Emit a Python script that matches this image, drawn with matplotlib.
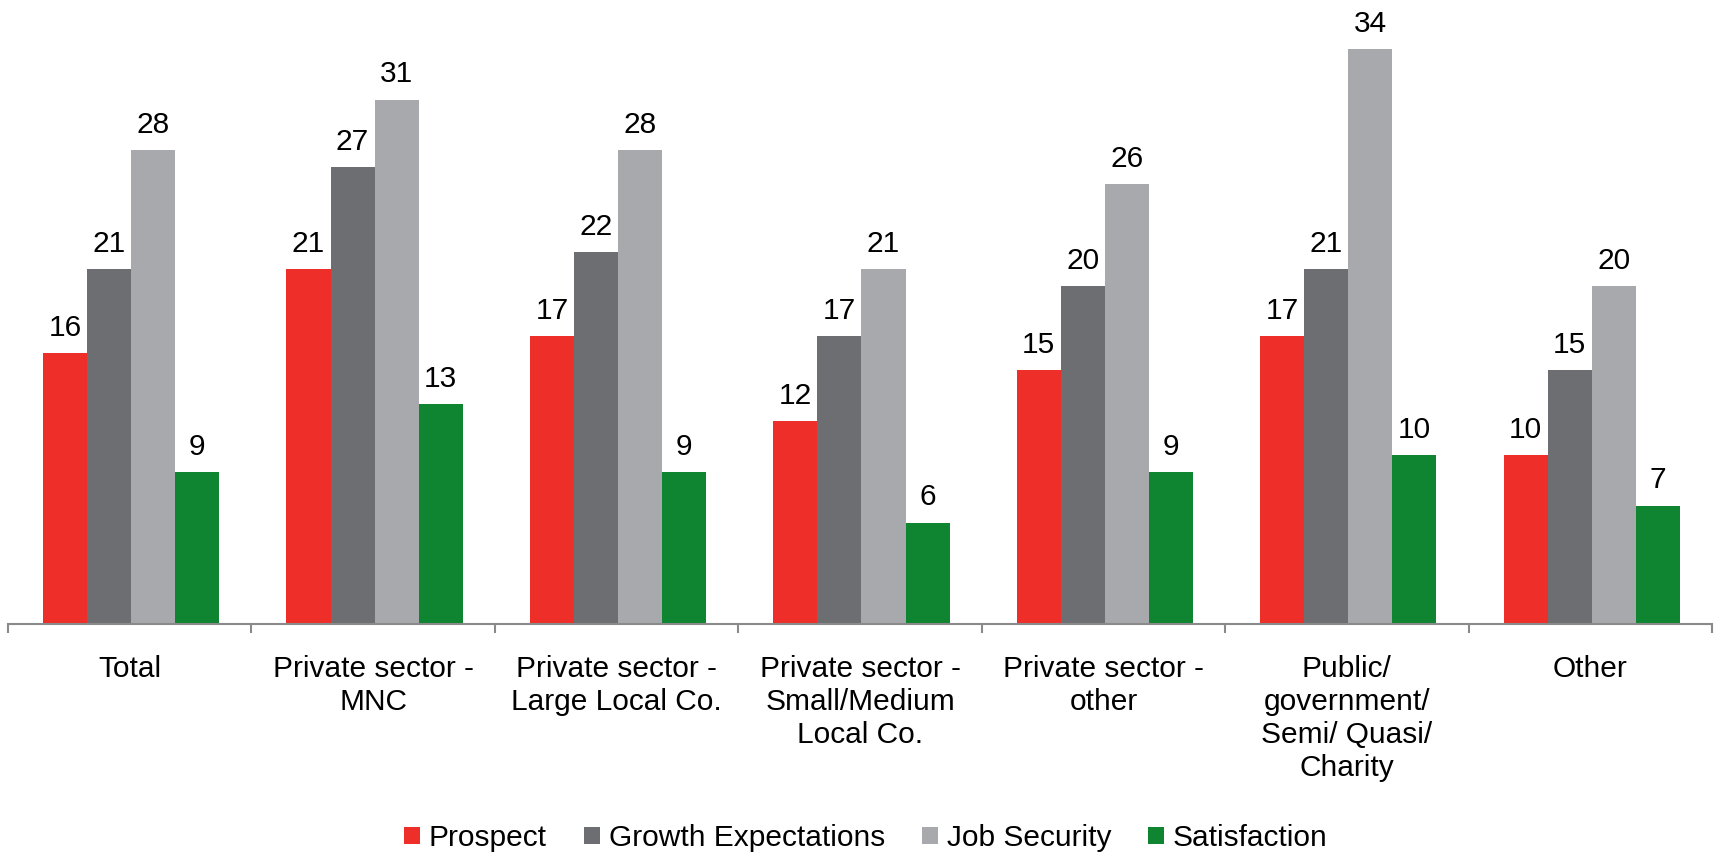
import numpy as np
import matplotlib
matplotlib.use("Agg")
import matplotlib.pyplot as plt
from matplotlib.patches import Patch

plt.rcParams['font.family'] = ['Liberation Sans', 'DejaVu Sans']

# --- data ---
categories = ["Total", "Private sector -\nMNC", "Private sector -\nLarge Local Co.",
              "Private sector -\nSmall/Medium\nLocal Co.", "Private sector -\nother",
              "Public/\ngovernment/\nSemi/ Quasi/\nCharity", "Other"]
series_names = ["Prospect", "Growth Expectations", "Job Security", "Satisfaction"]
prospect = [16, 21, 17, 12, 15, 17, 10]
growth = [21, 27, 22, 17, 20, 21, 15]
job_security = [28, 31, 28, 21, 26, 34, 20]
satisfaction = [9, 13, 9, 6, 9, 10, 7]

colors = ["#EE2E29", "#6D6E71", "#A7A9AC", "#0F8431"]
axis_grey = "#8A8A8A"

W, H = 1718, 855
fig = plt.figure(figsize=(W / 100, H / 100), dpi=100)
ax = fig.add_axes([8 / W, (H - 624) / H, (1712 - 8) / W, 609 / H])

x = np.arange(len(categories))
width = 0.181
all_series = [prospect, growth, job_security, satisfaction]
for i, (vals, col, name) in enumerate(zip(all_series, colors, series_names)):
    pos = x + (i - 1.5) * width + 0.006
    bars = ax.bar(pos, vals, width=width, color=col, label=name, linewidth=0)
    for b, v in zip(bars, vals):
        ax.annotate(str(v), (b.get_x() + b.get_width() / 2, v),
                    xytext=(0, 8), textcoords="offset points",
                    ha="center", va="bottom", fontsize=21.5, color="black")

ax.set_xlim(-0.5, len(categories) - 0.5)
ax.set_ylim(0, 36)

for s in ["top", "right", "left"]:
    ax.spines[s].set_visible(False)
ax.spines["bottom"].set_color(axis_grey)
ax.spines["bottom"].set_linewidth(1.5)
ax.set_yticks([])

# category labels at centres, tick marks at the boundaries
ax.set_xticks(x)
ax.set_xticklabels(categories, fontsize=21.5, linespacing=1.24)
ax.tick_params(axis="x", which="major", length=0, pad=22)
ax.set_xticks(np.arange(len(categories) + 1) - 0.5, minor=True)
ax.tick_params(axis="x", which="minor", length=6.5, width=1.5, color=axis_grey)

handles = [Patch(facecolor=c, edgecolor="none", label=n) for c, n in zip(colors, series_names)]
fig.legend(handles=handles, loc="center", bbox_to_anchor=(866 / W, 1 - 838 / H),
           ncol=4, frameon=False, fontsize=21.5, handlelength=0.52, handleheight=0.52,
           handletextpad=0.3, columnspacing=1.25, borderpad=0)

fig.savefig("out.png", dpi=100, facecolor="white")
